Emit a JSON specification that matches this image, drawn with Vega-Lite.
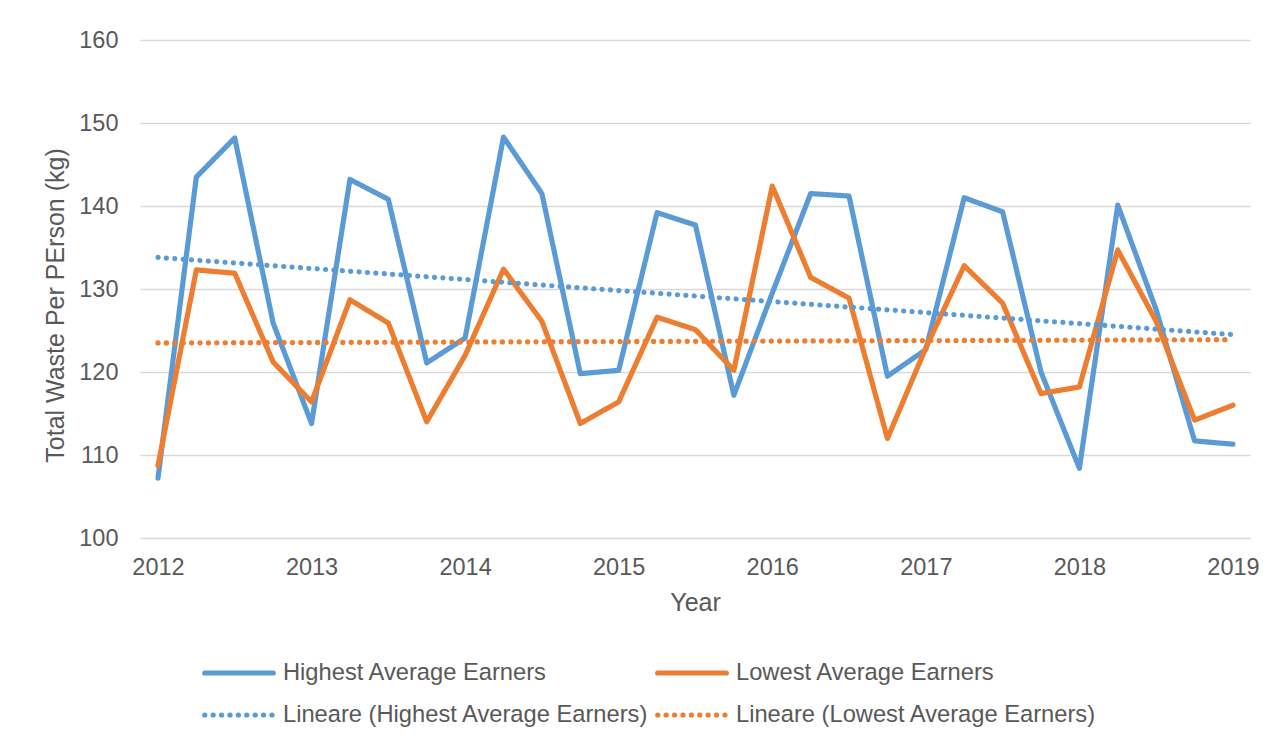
{
  "$schema": "https://vega.github.io/schema/vega-lite/v6.json",
  "autosize": {"type": "none"},
  "width": 1110,
  "height": 498,
  "padding": {"left": 140, "top": 40, "right": 31, "bottom": 204},
  "background": "white",
  "config": {
    "view": {"stroke": null},
    "font": "Liberation Sans",
    "axis": {"labelFont": "Liberation Sans", "titleFont": "Liberation Sans", "labelColor": "#595959", "titleColor": "#595959", "titleFontWeight": "normal"},
    "legend": {"labelFont": "Liberation Sans", "labelColor": "#595959"}
  },
  "data": {"values": [
    {"year": 2012.00, "value": 107.2, "series": "Highest Average Earners"},
    {"year": 2012.25, "value": 143.5, "series": "Highest Average Earners"},
    {"year": 2012.50, "value": 148.2, "series": "Highest Average Earners"},
    {"year": 2012.75, "value": 125.9, "series": "Highest Average Earners"},
    {"year": 2013.00, "value": 113.8, "series": "Highest Average Earners"},
    {"year": 2013.25, "value": 143.2, "series": "Highest Average Earners"},
    {"year": 2013.50, "value": 140.8, "series": "Highest Average Earners"},
    {"year": 2013.75, "value": 121.1, "series": "Highest Average Earners"},
    {"year": 2014.00, "value": 124.1, "series": "Highest Average Earners"},
    {"year": 2014.25, "value": 148.3, "series": "Highest Average Earners"},
    {"year": 2014.50, "value": 141.5, "series": "Highest Average Earners"},
    {"year": 2014.75, "value": 119.8, "series": "Highest Average Earners"},
    {"year": 2015.00, "value": 120.2, "series": "Highest Average Earners"},
    {"year": 2015.25, "value": 139.2, "series": "Highest Average Earners"},
    {"year": 2015.50, "value": 137.7, "series": "Highest Average Earners"},
    {"year": 2015.75, "value": 117.2, "series": "Highest Average Earners"},
    {"year": 2016.00, "value": 129.5, "series": "Highest Average Earners"},
    {"year": 2016.25, "value": 141.5, "series": "Highest Average Earners"},
    {"year": 2016.50, "value": 141.2, "series": "Highest Average Earners"},
    {"year": 2016.75, "value": 119.5, "series": "Highest Average Earners"},
    {"year": 2017.00, "value": 122.7, "series": "Highest Average Earners"},
    {"year": 2017.25, "value": 141.0, "series": "Highest Average Earners"},
    {"year": 2017.50, "value": 139.3, "series": "Highest Average Earners"},
    {"year": 2017.75, "value": 120.0, "series": "Highest Average Earners"},
    {"year": 2018.00, "value": 108.4, "series": "Highest Average Earners"},
    {"year": 2018.25, "value": 140.1, "series": "Highest Average Earners"},
    {"year": 2018.50, "value": 127.5, "series": "Highest Average Earners"},
    {"year": 2018.75, "value": 111.7, "series": "Highest Average Earners"},
    {"year": 2019.00, "value": 111.3, "series": "Highest Average Earners"},
    {"year": 2012.00, "value": 108.7, "series": "Lowest Average Earners"},
    {"year": 2012.25, "value": 132.3, "series": "Lowest Average Earners"},
    {"year": 2012.50, "value": 131.9, "series": "Lowest Average Earners"},
    {"year": 2012.75, "value": 121.2, "series": "Lowest Average Earners"},
    {"year": 2013.00, "value": 116.4, "series": "Lowest Average Earners"},
    {"year": 2013.25, "value": 128.7, "series": "Lowest Average Earners"},
    {"year": 2013.50, "value": 125.9, "series": "Lowest Average Earners"},
    {"year": 2013.75, "value": 114.0, "series": "Lowest Average Earners"},
    {"year": 2014.00, "value": 122.0, "series": "Lowest Average Earners"},
    {"year": 2014.25, "value": 132.4, "series": "Lowest Average Earners"},
    {"year": 2014.50, "value": 126.1, "series": "Lowest Average Earners"},
    {"year": 2014.75, "value": 113.8, "series": "Lowest Average Earners"},
    {"year": 2015.00, "value": 116.4, "series": "Lowest Average Earners"},
    {"year": 2015.25, "value": 126.6, "series": "Lowest Average Earners"},
    {"year": 2015.50, "value": 125.1, "series": "Lowest Average Earners"},
    {"year": 2015.75, "value": 120.2, "series": "Lowest Average Earners"},
    {"year": 2016.00, "value": 142.4, "series": "Lowest Average Earners"},
    {"year": 2016.25, "value": 131.4, "series": "Lowest Average Earners"},
    {"year": 2016.50, "value": 128.9, "series": "Lowest Average Earners"},
    {"year": 2016.75, "value": 112.0, "series": "Lowest Average Earners"},
    {"year": 2017.00, "value": 122.9, "series": "Lowest Average Earners"},
    {"year": 2017.25, "value": 132.8, "series": "Lowest Average Earners"},
    {"year": 2017.50, "value": 128.3, "series": "Lowest Average Earners"},
    {"year": 2017.75, "value": 117.4, "series": "Lowest Average Earners"},
    {"year": 2018.00, "value": 118.2, "series": "Lowest Average Earners"},
    {"year": 2018.25, "value": 134.7, "series": "Lowest Average Earners"},
    {"year": 2018.50, "value": 126.1, "series": "Lowest Average Earners"},
    {"year": 2018.75, "value": 114.2, "series": "Lowest Average Earners"},
    {"year": 2019.00, "value": 116.0, "series": "Lowest Average Earners"},
    {"year": 2012.00, "value": 133.8, "series": "Lineare (Highest Average Earners)"},
    {"year": 2019.00, "value": 124.5, "series": "Lineare (Highest Average Earners)"},
    {"year": 2012.00, "value": 123.5, "series": "Lineare (Lowest Average Earners)"},
    {"year": 2019.00, "value": 123.9, "series": "Lineare (Lowest Average Earners)"}
  ]},
  "encoding": {
    "x": {
      "field": "year", "type": "quantitative",
      "scale": {"domain": [2011.883, 2019.111], "nice": false, "zero": false},
      "axis": {"title": "Year", "values": [2012, 2013, 2014, 2015, 2016, 2017, 2018, 2019], "format": "d", "grid": false, "domain": false, "ticks": false, "tickSize": 0, "labelFontSize": 23.5, "labelPadding": 17, "titleFontSize": 25, "titlePadding": 12, "labelFlush": false, "labelOverlap": false}
    },
    "y": {
      "field": "value", "type": "quantitative",
      "scale": {"domain": [100, 160], "nice": false, "zero": false},
      "axis": {"title": "Total Waste Per PErson (kg)", "values": [100, 110, 120, 130, 140, 150, 160], "grid": true, "gridColor": "#d9d9d9", "gridWidth": 1.3, "domain": false, "ticks": false, "tickSize": 0, "labelFontSize": 23.5, "labelPadding": 22, "titleFontSize": 25, "titlePadding": 10, "titleY": 265}
    },
    "color": {
      "field": "series", "type": "nominal",
      "scale": {"domain": ["Highest Average Earners", "Lowest Average Earners", "Lineare (Highest Average Earners)", "Lineare (Lowest Average Earners)"], "range": ["#5B9BD5", "#ED7D31", "#5B9BD5", "#ED7D31"]},
      "legend": {"title": null, "orient": "none", "direction": "horizontal", "legendX": 62, "legendY": 621, "columns": 2, "symbolType": "stroke", "symbolSize": 4700, "clipHeight": 24, "labelFontSize": 23.7, "labelOffset": 7, "columnPadding": 6, "rowPadding": 18, "padding": 0, "labelLimit": 600, "symbolOpacity": 1, "encode": {"symbols": {"update": {"strokeCap": {"value": "round"}}}}}
    },
    "strokeDash": {
      "field": "series", "type": "nominal",
      "scale": {"domain": ["Highest Average Earners", "Lowest Average Earners", "Lineare (Highest Average Earners)", "Lineare (Lowest Average Earners)"], "range": [[1, 0], [1, 0], [0.1, 8.3], [0.1, 8.3]]},
      "legend": {"title": null, "orient": "none", "direction": "horizontal", "legendX": 62, "legendY": 621, "columns": 2, "symbolType": "stroke", "symbolSize": 4700, "clipHeight": 24, "labelFontSize": 23.7, "labelOffset": 7, "columnPadding": 6, "rowPadding": 18, "padding": 0, "labelLimit": 600, "symbolOpacity": 1, "encode": {"symbols": {"update": {"strokeCap": {"value": "round"}}}}}
    },
    "strokeWidth": {
      "field": "series", "type": "nominal",
      "scale": {"domain": ["Highest Average Earners", "Lowest Average Earners", "Lineare (Highest Average Earners)", "Lineare (Lowest Average Earners)"], "range": [5.2, 5.2, 3, 3]},
      "legend": {"title": null, "orient": "none", "direction": "horizontal", "legendX": 62, "legendY": 621, "columns": 2, "symbolType": "stroke", "symbolSize": 4700, "clipHeight": 24, "labelFontSize": 23.7, "labelOffset": 7, "columnPadding": 6, "rowPadding": 18, "padding": 0, "labelLimit": 600, "symbolOpacity": 1, "encode": {"symbols": {"update": {"strokeCap": {"value": "round"}}}}}
    }
  },
  "layer": [
    {
      "transform": [{"filter": {"field": "series", "oneOf": ["Highest Average Earners", "Lowest Average Earners"]}}],
      "mark": {"type": "line", "strokeCap": "round", "strokeJoin": "round"}
    },
    {
      "transform": [{"filter": {"field": "series", "oneOf": ["Lineare (Highest Average Earners)", "Lineare (Lowest Average Earners)"]}}],
      "mark": {"type": "line", "strokeCap": "round"}
    }
  ]
}
